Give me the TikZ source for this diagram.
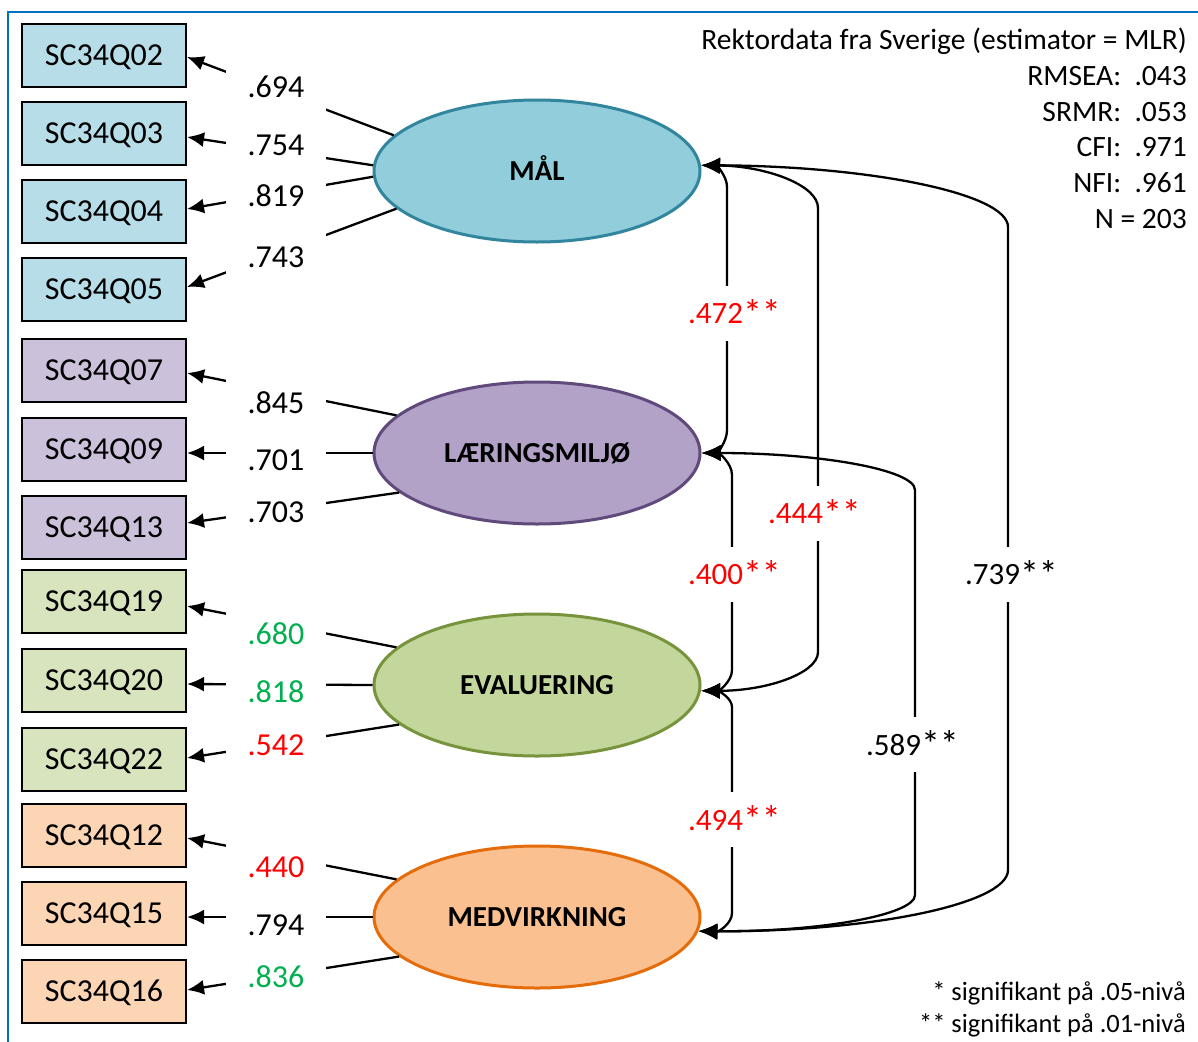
\documentclass[tikz,border=0pt]{standalone}
\usepackage{fontspec}
\setmainfont{Carlito}
\usetikzlibrary{arrows.meta,shapes.geometric,calc}
\definecolor{malfill}{HTML}{92CDDC}\definecolor{maldraw}{HTML}{31859C}
\definecolor{laerfill}{HTML}{B3A2C7}\definecolor{laerdraw}{HTML}{604A7B}
\definecolor{evalfill}{HTML}{C3D69B}\definecolor{evaldraw}{HTML}{77933C}
\definecolor{medvfill}{HTML}{FAC090}\definecolor{medvdraw}{HTML}{E46C0A}
\definecolor{boxblue}{HTML}{B7DEE8}\definecolor{boxpurple}{HTML}{CCC1DA}
\definecolor{boxgreen}{HTML}{D7E4BD}\definecolor{boxorange}{HTML}{FCD5B5}
\definecolor{sigred}{HTML}{FF0000}\definecolor{siggreen}{HTML}{00B050}
\definecolor{framecol}{HTML}{0070C0}
\newcommand{\bigast}{{\fontsize{38}{38}\selectfont\raisebox{-2.5pt}{*}}}
\begin{document}
\begin{tikzpicture}[x=1pt,y=-1pt,
  itembox/.style={draw=black,line width=2pt,minimum width=164pt,minimum height=63pt,inner sep=0pt,
    font=\fontsize{32}{38}\selectfont,text height=20.6pt,text depth=0pt},
  latent/.style={ellipse,line width=3pt,minimum width=326pt,minimum height=142pt,inner sep=0pt,
    font=\bfseries\fontsize{29}{34}\selectfont,text height=18.5pt,text depth=0pt},
  loadline/.style={line width=2.3pt,-{Latex[length=17pt,width=15pt]}},
  corrline/.style={line width=2.3pt,{Latex[length=19pt,width=16pt]}-{Latex[length=19pt,width=16pt]}},
  loadlbl/.style={fill=white,minimum width=100pt,minimum height=54pt,inner sep=0pt,
    font=\fontsize{32}{38}\selectfont},
  corrlbl/.style={fill=white,minimum height=55pt,inner xsep=3pt,inner ysep=0pt,
    font=\fontsize{31}{36}\selectfont},
  fittext/.style={anchor=base east,inner sep=0pt,font=\fontsize{29.5}{34}\selectfont},
  notetext/.style={anchor=base east,inner sep=0pt,font=\fontsize{26.5}{31}\selectfont},
  frameline/.style={draw=framecol,line width=2pt}
]
\useasboundingbox (0,0) rectangle (1198,1041);
\fill[white] (0,0) rectangle (1198,1041);
\draw[frameline] (7.5,1050) -- (7.5,12) -- (1210,12);

% observed variables
\node[itembox,fill=boxblue] (q02) at (104,55.5) {SC34Q02};
\node[itembox,fill=boxblue] (q03) at (104,133.5) {SC34Q03};
\node[itembox,fill=boxblue] (q04) at (104,211.5) {SC34Q04};
\node[itembox,fill=boxblue] (q05) at (104,289.5) {SC34Q05};
\node[itembox,fill=boxpurple] (q07) at (104,370.5) {SC34Q07};
\node[itembox,fill=boxpurple] (q09) at (104,449.5) {SC34Q09};
\node[itembox,fill=boxpurple] (q13) at (104,527.5) {SC34Q13};
\node[itembox,fill=boxgreen] (q19) at (104,601.5) {SC34Q19};
\node[itembox,fill=boxgreen] (q20) at (104,680.5) {SC34Q20};
\node[itembox,fill=boxgreen] (q22) at (104,759) {SC34Q22};
\node[itembox,fill=boxorange] (q12) at (104,835.5) {SC34Q12};
\node[itembox,fill=boxorange] (q15) at (104,913.5) {SC34Q15};
\node[itembox,fill=boxorange] (q16) at (104,991.5) {SC34Q16};

% latent variables
\node[latent,fill=malfill,draw=maldraw] (mal) at (537,171) {MÅL};
\node[latent,fill=laerfill,draw=laerdraw] (laer) at (537,453) {LÆRINGSMILJØ};
\node[latent,fill=evalfill,draw=evaldraw] (eval) at (537,685) {EVALUERING};
\node[latent,fill=medvfill,draw=medvdraw] (medv) at (537,917) {MEDVIRKNING};

% loadings
\draw[loadline] (mal.166.7) -- ($(q02.east)+(0,1.5)$);
\draw[loadline] (mal.178.3) -- ($(q03.east)+(0,3.5)$);
\draw[loadline] (mal.182.8) -- ($(q04.east)+(0,-2.5)$);
\draw[loadline] (mal.195.7) -- ($(q05.east)+(0,-2.5)$);
\draw[loadline] (laer.165.8) -- ($(q07.east)+(0,2.5)$);
\draw[loadline] (laer.180) -- ($(q09.east)+(0,3.5)$);
\draw[loadline] (laer.196.1) -- ($(q13.east)+(0,-4.5)$);
\draw[loadline] (eval.165.8) -- ($(q19.east)+(0,4.5)$);
\draw[loadline] (eval.180) -- ($(q20.east)+(0,3.5)$);
\draw[loadline] (eval.196.1) -- ($(q22.east)+(0,-1)$);
\draw[loadline] (medv.165.8) -- ($(q12.east)+(0,2.5)$);
\draw[loadline] (medv.180) -- ($(q15.east)+(0,3.5)$);
\draw[loadline] (medv.196.1) -- ($(q16.east)+(0,-1.5)$);

% correlations
\draw[corrline] (mal.2) .. controls (716,166) and (727,175.5) .. (727,187) -- (727,430)
  .. controls (727,442.7) and (716,453) .. (laer.east);
\draw[corrline] (mal.2) .. controls (766,166) and (818,185) .. (818,208) -- (818,652)
  .. controls (818,673.5) and (766,691) .. (eval.-2);
\draw[corrline] (mal.2) .. controls (870,166) and (1008,193.5) .. (1008,227) -- (1008,870)
  .. controls (1008,904) and (870,932) .. (medv.-5);
\draw[corrline] (laer.east) .. controls (718.5,453) and (732,463) .. (732,475) -- (732,670)
  .. controls (732,681.5) and (718.5,691) .. (eval.-2);
\draw[corrline] (laer.east) .. controls (819,453) and (915,469.6) .. (915,490) -- (915,895)
  .. controls (915,915) and (819,932) .. (medv.-5);
\draw[corrline] (eval.-2) .. controls (718.5,691) and (732,698) .. (732,707) -- (732,913)
  .. controls (732,923.5) and (718.5,932) .. (medv.-5);

% loading labels
\node[loadlbl] (l02) at (276,87) {.694};
\node[loadlbl] (l03) at (276,145) {.754};
\node[loadlbl] (l04) at (276,196) {.819};
\node[loadlbl] (l05) at (276,257) {.743};
\node[loadlbl] (l07) at (276,403) {.845};
\node[loadlbl] (l09) at (276,460) {.701};
\node[loadlbl] (l13) at (276,512) {.703};
\node[loadlbl,text=siggreen] (l19) at (276,634) {.680};
\node[loadlbl,text=siggreen] (l20) at (276,692) {.818};
\node[loadlbl,text=sigred] (l22) at (276,745) {.542};
\node[loadlbl,text=sigred] (l12) at (276,867) {.440};
\node[loadlbl] (l15) at (276,925) {.794};
\node[loadlbl,text=siggreen] (l16) at (276,977) {.836};

% correlation labels
\node[corrlbl,text=sigred] (c1) at (734.5,313) {.472\bigast\bigast};
\node[corrlbl,text=sigred] (c2) at (814.5,513) {.444\bigast\bigast};
\node[corrlbl] (c3) at (1011.5,574) {.739\bigast\bigast};
\node[corrlbl,text=sigred] (c4) at (734.5,574) {.400\bigast\bigast};
\node[corrlbl] (c5) at (912.5,744) {.589\bigast\bigast};
\node[corrlbl,text=sigred] (c6) at (734.5,819) {.494\bigast\bigast};

% fit information
\node[fittext] (t1) at (1187,49) {Rektordata fra Sverige (estimator = MLR)};
\node[fittext] (t2) at (1187,85) {RMSEA:\ \ .043};
\node[fittext] (t3) at (1187,121) {SRMR:\ \ .053};
\node[fittext] (t4) at (1187,156.5) {CFI:\ \ .971};
\node[fittext] (t5) at (1187,192.5) {NFI:\ \ .961};
\node[fittext] (t6) at (1187,228) {N = 203};

% notes
\node[notetext] (n1) at (1186,1000) {* signifikant på .05-nivå};
\node[notetext] (n2) at (1186,1032) {** signifikant på .01-nivå};
\end{tikzpicture}
\end{document}
